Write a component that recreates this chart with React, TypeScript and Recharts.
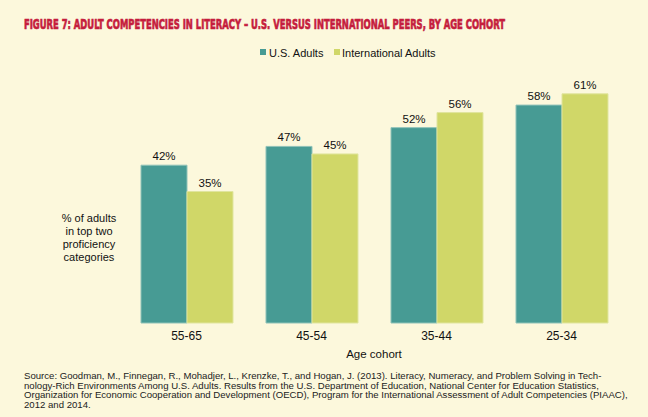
import React from "react";
import { BarChart, Bar, XAxis, YAxis, LabelList } from "recharts";

const categories = ["55-65", "45-54", "35-44", "25-34"];
const usAdults = [42, 47, 52, 58];
const intlAdults = [35, 45, 56, 61];
const seriesNames = ["U.S. Adults", "International Adults"];
const title = "FIGURE 7: ADULT COMPETENCIES IN LITERACY \u2013 U.S. VERSUS INTERNATIONAL PEERS, BY AGE COHORT";
const yLabelLines = ["% of adults", "in top two", "proficiency", "categories"];
const xLabel = "Age cohort";
const sourceLines = [
  "Source: Goodman, M., Finnegan, R., Mohadjer, L., Krenzke, T., and Hogan, J. (2013). Literacy, Numeracy, and Problem Solving in Tech-",
  "nology-Rich Environments Among U.S. Adults. Results from the U.S. Department of Education, National Center for Education Statistics,",
  "Organization for Economic Cooperation and Development (OECD), Program for the International Assessment of Adult Competencies (PIAAC),",
  "2012 and 2014.",
];

const data = categories.map((c, i) => ({ cat: c, us: usAdults[i], intl: intlAdults[i] }));

const BG = "#FCF8DC";
const TEAL = "#479B94";
const LIME = "#D0D768";
const TITLE_RED = "#C51D3D";
const FONT = "'Liberation Sans', Arial, sans-serif";

export default function App() {
  return (
    <div style={{ position: "fixed", left: 0, top: 0, width: 648, height: 417, background: BG, fontFamily: FONT }}>
      <BarChart
        width={648}
        height={417}
        data={data}
        margin={{ top: 60, right: 24, bottom: 64, left: 124 }}
        barGap={0}
        barCategoryGap={17}
      >
        <XAxis
          dataKey="cat"
          axisLine={false}
          tickLine={false}
          height={30}
          tick={{ fill: "#111", fontSize: 12, fontFamily: FONT }}
        />
        <YAxis hide domain={[0, 70]} />
        <Bar dataKey="us" fill={TEAL} stroke="#8FC2B8" strokeWidth={1} isAnimationActive={false}>
          <LabelList dataKey="us" position="top" offset={5} formatter={(v: any) => `${v}%`} style={{ fill: "#111", fontSize: 11.5, fontFamily: FONT }} />
        </Bar>
        <Bar dataKey="intl" fill={LIME} stroke="#E0E59E" strokeWidth={1} isAnimationActive={false}>
          <LabelList dataKey="intl" position="top" offset={5} formatter={(v: any) => `${v}%`} style={{ fill: "#111", fontSize: 11.5, fontFamily: FONT }} />
        </Bar>
      </BarChart>
      <svg width={648} height={417} style={{ position: "absolute", left: 0, top: 0, pointerEvents: "none" }}>
        <g transform="translate(24,29) scale(1,1.62)">
          <text x={0} y={0} fill={TITLE_RED} stroke={TITLE_RED} strokeWidth={0.45} fontSize={9.2} fontWeight="bold" fontFamily="'DejaVu Sans Condensed', 'DejaVu Sans', sans-serif" textLength={481} lengthAdjust="spacingAndGlyphs">{title}</text>
        </g>
        <rect x={260} y={49} width={6} height={6} fill={TEAL} />
        <text x={269} y={56.5} fontSize={11} fill="#111" fontFamily={FONT}>{seriesNames[0]}</text>
        <rect x={334} y={49} width={6} height={6} fill={LIME} />
        <text x={342} y={56.5} fontSize={11} fill="#111" fontFamily={FONT}>{seriesNames[1]}</text>
        {yLabelLines.map((l, i) => (
          <text key={i} x={89} y={222 + i * 13} textAnchor="middle" fontSize={11} fill="#111" fontFamily={FONT}>{l}</text>
        ))}
        <text x={374} y={357.5} textAnchor="middle" fontSize={11.5} fill="#111" fontFamily={FONT}>{xLabel}</text>
        {sourceLines.map((l, i) => (
          <text key={i} x={24} y={379 + i * 9.7} fontSize={9.6} fill="#222" fontFamily={FONT}>{l}</text>
        ))}
      </svg>
    </div>
  );
}
